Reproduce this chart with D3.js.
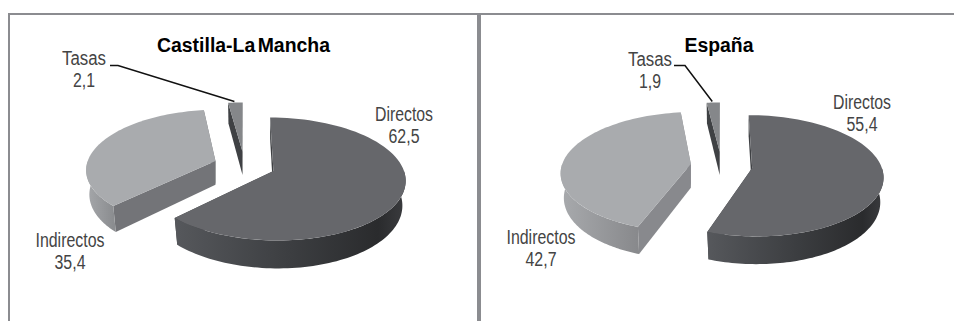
<!DOCTYPE html>
<html>
<head>
<meta charset="utf-8">
<script src="https://cdn.jsdelivr.net/npm/d3@7"></script>
<style>
  html, body { margin: 0; padding: 0; background: #fff; }
  svg { display: block; }
  text { font-family: "Liberation Sans", Arial, sans-serif; }
</style>
</head>
<body>
<div id="chart"></div>
<script>
// Values
const categories = ["Tasas", "Indirectos", "Directos"];
const clmValues = [2.1, 35.4, 62.5];
const espValues = [1.9, 42.7, 55.4];
const panelTitles = ["Castilla-La Mancha", "España"];

const width = 954;
const height = 321;

// Shared look of the 3D pies
const rx = 129, ry = 59, persp = 0.129, depth = 24, explode = 0.24, lowerShrink = 0.975;
const topColor = { Tasas: "#85878a", Indirectos: "#a9abae", Directos: "#66676b" };
const frameColor = "#8b8c90";

// Layout of each panel, label anchors are the centre of the text
const panels = [
  {
    title: panelTitles[0], values: clmValues, vx: 244.5, vy: 165.5, titleX: 243.5, titleW: 173,
    faceIndirectos: "#737478", wallIndirectos: ["#a6a8ab", "#8b8d90"],
    labels: { Tasas: [84, 65], Indirectos: [70, 247], Directos: [404, 121] },
    leader: [[110, 65.5], [118, 65.5]]
  },
  {
    title: panelTitles[1], values: espValues, vx: 721.5, vy: 165.5, titleX: 719, titleW: 69,
    faceIndirectos: "#88898d", wallIndirectos: ["#a8aaad", "#88898c"],
    labels: { Tasas: [650, 66], Indirectos: [541, 244], Directos: [862, 109] },
    leader: [[674, 65.5], [685, 65.5]]
  }
];
const labelWidths = { Tasas: 44, Indirectos: 69, Directos: 58 };

const svg = d3.select("#chart")
  .append("svg")
  .attr("width", width)
  .attr("height", height)
  .attr("viewBox", [0, 0, width, height]);

const defs = svg.append("defs");

// Frame lines
svg.append("g")
  .attr("fill", frameColor)
  .selectAll("rect")
  .data([[8, 13, 946, 2], [8, 13, 2, 308], [477, 13, 4, 308]])
  .join("rect")
  .attr("x", d => d[0])
  .attr("y", d => d[1])
  .attr("width", d => d[2])
  .attr("height", d => d[3]);

const line = d3.line();

panels.forEach((panel, pi) => {
  const g = svg.append("g");

  // Project a point of the pie plane to the screen
  function project(X, V, down) {
    const s = 1 + persp * V;
    return [panel.vx + X / s, panel.vy + (-V * ry + (down ? depth : 0)) / s];
  }

  // Directos starts at twelve o'clock and the slices run clockwise
  const order = ["Directos", "Indirectos", "Tasas"];
  const pie = d3.pie().sort(null).value(d => d.value)(
    order.map(name => ({ name, value: panel.values[categories.indexOf(name)] }))
  );
  const byName = new Map(pie.map(d => [d.data.name, d]));

  const gradId = name => `wall-${pi}-${name}`;
  const wallStops = {
    Directos: [["0%", "#56585c"], ["50%", "#3c3e41"], ["88%", "#2a2b2d"], ["100%", "#3b3c3f"]],
    Indirectos: [["0%", panel.wallIndirectos[0]], ["100%", panel.wallIndirectos[1]]],
    Tasas: [["0%", "#3f4144"], ["100%", "#3f4144"]]
  };

  // Paint from the back to the front
  categories.forEach(name => {
    const d = byName.get(name);
    const mid = (d.startAngle + d.endAngle) / 2;
    const ox = explode * rx * Math.sin(mid);
    const ov = explode * Math.cos(mid);
    const at = (a, r, down) => {
      const k = down ? r * lowerShrink : r;
      return project(ox + k * rx * Math.sin(a), ov + r * Math.cos(a), down);
    };
    const arcAngles = (a0, a1) => d3.range(0, 81).map(i => a0 + (a1 - a0) * i / 80);

    const faceColor = name === "Indirectos" ? panel.faceIndirectos : "#3f4144";
    const s = g.append("g");

    // Cut faces
    [d.startAngle, d.endAngle].forEach(a => {
      s.append("path")
        .attr("fill", faceColor)
        .attr("d", line([at(a, 0, false), at(a, 1, false), at(a, 1, true), at(a, 0, true)]) + "Z");
    });

    // Outer wall, only the part turned to the viewer
    const a0 = Math.max(d.startAngle, Math.PI * 0.5);
    const a1 = Math.min(d.endAngle, Math.PI * 1.5);
    if (a1 > a0) {
      const angles = arcAngles(a0, a1);
      const upper = angles.map(a => at(a, 1, false));
      const lower = angles.map(a => at(a, 1, true)).reverse();
      const xr = d3.extent(upper, p => p[0]);
      const grad = defs.append("linearGradient")
        .attr("id", gradId(name))
        .attr("gradientUnits", "userSpaceOnUse")
        .attr("x1", xr[0]).attr("x2", xr[1])
        .attr("y1", 0).attr("y2", 0);
      grad.selectAll("stop")
        .data(wallStops[name])
        .join("stop")
        .attr("offset", c => c[0])
        .attr("stop-color", c => c[1]);
      s.append("path")
        .attr("fill", `url(#${gradId(name)})`)
        .attr("d", line(upper.concat(lower)) + "Z");
    }

    // Top face
    const topPts = [at(d.startAngle, 0, false)]
      .concat(arcAngles(d.startAngle, d.endAngle).map(a => at(a, 1, false)));
    s.append("path")
      .attr("fill", topColor[name])
      .attr("d", line(topPts) + "Z");

    // Leader line of the thin slice
    if (name === "Tasas") {
      const end = at(mid, 1, false);
      g.append("path")
        .attr("fill", "none")
        .attr("stroke", "#111")
        .attr("stroke-width", 1.5)
        .attr("d", line(panel.leader.concat([[end[0] - 1, end[1] - 1]])));
    }
  });

  // Title
  g.append("text")
    .attr("x", panel.titleX)
    .attr("y", 52)
    .attr("text-anchor", "middle")
    .attr("font-size", 20)
    .attr("font-weight", "bold")
    .attr("fill", "#000")
    .attr("word-spacing", -3)
    .attr("textLength", panel.titleW)
    .attr("lengthAdjust", "spacingAndGlyphs")
    .text(panel.title);

  // Name and value labels
  categories.forEach((name, i) => {
    const [lx, ly] = panel.labels[name];
    const value = String(panel.values[i]).replace(".", ",");
    g.append("text")
      .attr("x", lx)
      .attr("y", ly)
      .attr("text-anchor", "middle")
      .attr("font-size", 20)
      .attr("fill", "#444")
      .attr("textLength", labelWidths[name])
      .attr("lengthAdjust", "spacingAndGlyphs")
      .text(name);
    g.append("text")
      .attr("x", lx)
      .attr("y", ly + 21.5)
      .attr("text-anchor", "middle")
      .attr("font-size", 20)
      .attr("fill", "#444")
      .attr("textLength", value.length > 3 ? 31 : 22)
      .attr("lengthAdjust", "spacingAndGlyphs")
      .text(value);
  });
});
</script>
</body>
</html>
